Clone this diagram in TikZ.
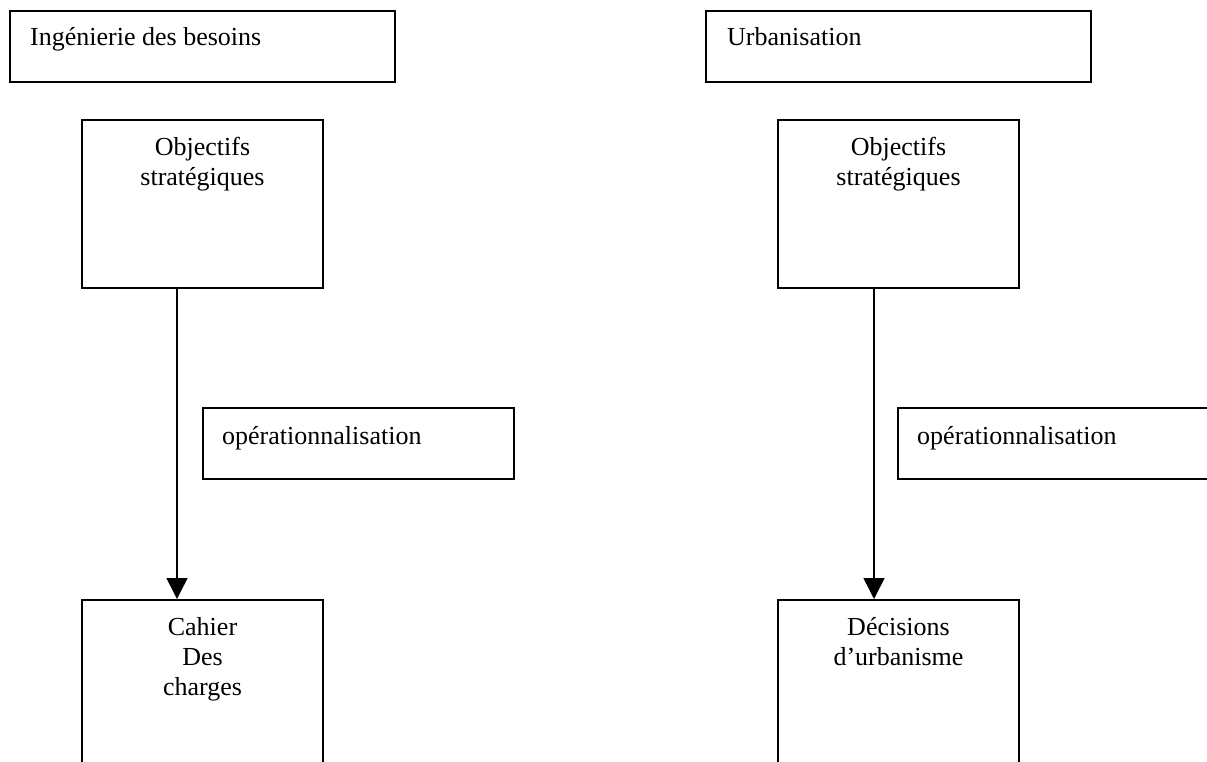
\documentclass[tikz,border=0pt]{standalone}
\usepackage{fontspec}
\setmainfont{Liberation Serif}
\usetikzlibrary{calc,arrows.meta}
\begin{document}
\begin{tikzpicture}[x=1pt,y=-1pt,
  frame/.style={draw=black,line width=2pt,rectangle,inner sep=0pt,anchor=north west},
  txt/.style={inner sep=0pt,font=\fontsize{26}{30}\selectfont},
  flow/.style={draw=black,line width=1.5pt,-{Triangle[length=21pt,width=21pt]}}]
  \useasboundingbox (0,0) rectangle (1207,762);
  \fill[white] (0,0) rectangle (1207,762);
  \clip (0,0) rectangle (1207,762);

  % section headers
  \node[frame,minimum width=385pt,minimum height=71pt] (ing) at (9,10.5) {};
  \node[txt,anchor=base west] (ingT) at ($(ing.north west)+(21,35)$) {Ingénierie des besoins};
  \node[frame,minimum width=385pt,minimum height=71pt] (urb) at (705,10.5) {};
  \node[txt,anchor=base west] (urbT) at ($(urb.north west)+(22,35)$) {Urbanisation};

  % strategic objectives (base anchor = baseline of the last line)
  \node[frame,minimum width=241pt,minimum height=168pt] (objL) at (81,119) {};
  \node[txt,anchor=base,align=center] (objLT) at ($(objL.north)+(0,67)$) {Objectifs\\stratégiques};
  \node[frame,minimum width=241pt,minimum height=168pt] (objR) at (777,119) {};
  \node[txt,anchor=base,align=center] (objRT) at ($(objR.north)+(0,67)$) {Objectifs\\stratégiques};

  % operationalisation labels
  \node[frame,minimum width=311pt,minimum height=71pt] (opL) at (202,407) {};
  \node[txt,anchor=base west] (opLT) at ($(opL.north west)+(20,37)$) {opérationnalisation};
  \node[frame,minimum width=400pt,minimum height=71pt] (opR) at (897,407) {};
  \node[txt,anchor=base west] (opRT) at ($(opR.north west)+(20,37)$) {opérationnalisation};

  % results
  \node[frame,minimum width=241pt,minimum height=250pt] (cdc) at (81,599) {};
  \node[txt,anchor=base,align=center] (cdcT) at ($(cdc.north)+(0,96)$) {Cahier\\Des\\charges};
  \node[frame,minimum width=241pt,minimum height=250pt] (dec) at (777,599) {};
  \node[txt,anchor=base,align=center] (decT) at ($(dec.north)+(0,66)$) {Décisions\\d’urbanisme};

  % flows
  \draw[flow] ($(objL.south west)+(96,0)$) -- ($(cdc.north west)+(96,0)$);
  \draw[flow] ($(objR.south west)+(97,0)$) -- ($(dec.north west)+(97,0)$);
\end{tikzpicture}
\end{document}
